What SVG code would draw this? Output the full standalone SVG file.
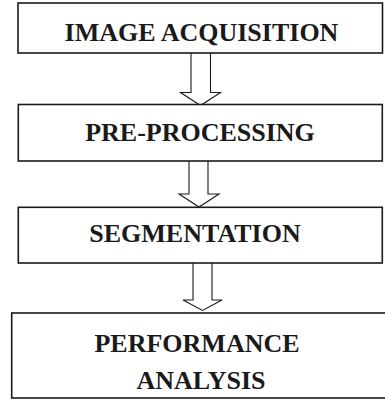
<svg xmlns="http://www.w3.org/2000/svg" width="385" height="399" viewBox="0 0 385 399">
<style>
.box{fill:#fff;stroke:#1a1a1a;stroke-width:1.6}
.arr{fill:#fff;stroke:#1a1a1a;stroke-width:1.1;stroke-linejoin:miter}
.lbl{font-family:"Liberation Serif","Times New Roman",serif;font-weight:bold;font-size:26px;fill:#1a1a1a;text-anchor:middle}
</style>
<rect width="385" height="399" fill="#fff"/>
<g id="connectors">
<polyline class="arr" points="191,53 191,92.5 180.5,92.5 200.5,105.5 220.5,92.5 210.5,92.5 210.5,53"/>
<polyline class="arr" points="189,161 189,194 179,194 199,207 219,194 208,194 208,161"/>
<polyline class="arr" points="193,263 193,300 183,300 202.5,310.5 222,300 212,300 212,263"/>
</g>
<g id="image-acquisition">
<rect class="box" x="18" y="3" width="364.5" height="50"/>
<text class="lbl" x="201.5" y="40.5">IMAGE ACQUISITION</text>
</g>
<g id="pre-processing">
<rect class="box" x="18.3" y="104.5" width="364" height="56.5"/>
<text class="lbl" x="200" y="141">PRE-PROCESSING</text>
</g>
<g id="segmentation">
<rect class="box" x="18.3" y="207.3" width="364" height="55.7"/>
<text class="lbl" x="195" y="242">SEGMENTATION</text>
</g>
<g id="performance-analysis">
<rect class="box" x="11.7" y="313" width="380" height="85"/>
<text class="lbl" x="197" y="351.7">PERFORMANCE</text>
<text class="lbl" x="201" y="389">ANALYSIS</text>
</g>
</svg>
